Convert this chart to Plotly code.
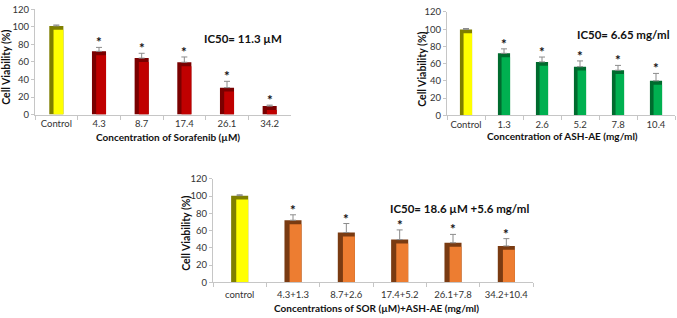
import plotly.graph_objects as go

W, H = 677, 318

# ---------------- data ----------------
sor_labels = ["Control", "4.3", "8.7", "17.4", "26.1", "34.2"]
sor_values = [101, 72, 64.3, 59.6, 30.7, 9.7]
sor_errors = [1, 4.5, 5.5, 6, 7.2, 1.1]
sor_signif = ["", "*", "*", "*", "*", "*"]

ash_labels = ["Control", "1.3", "2.6", "5.2", "7.8", "10.4"]
ash_values = [99.8, 72, 62.1, 56.5, 52.4, 40.1]
ash_errors = [1, 5.2, 5.6, 6.7, 5.6, 8.6]
ash_signif = ["", "*", "*", "*", "*", "*"]

mix_labels = ["control", "4.3+1.3", "8.7+2.6", "17.4+5.2", "26.1+7.8", "34.2+10.4"]
mix_values = [100.5, 72, 57.8, 49.6, 45.9, 42.2]
mix_errors = [1, 6.3, 10.4, 11.2, 9.7, 8.5]
mix_signif = ["", "*", "*", "*", "*", "*"]

titles_x = ["Concentration of Sorafenib (\u00b5M)",
            "Concentration of ASH-AE (mg/ml)",
            "Concentrations of SOR (\u00b5M)+ASH-AE (mg/ml)"]
ic50_texts = ["IC50= 11.3 \u00b5M", "IC50= 6.65 mg/ml", "IC50= 18.6 \u00b5M +5.6 mg/ml"]
y_title = "Cell Viability (%)"

# ---------------- styling ----------------
FONT = "Lato"
ctrl_dark, ctrl_light = "#7f7f00", "#ffff00"
series_cols = [("#7a0000", "#c00000"), ("#006b2e", "#00b050"), ("#7a3b12", "#ed7d31")]
band = 4.5  # top shade height (value units)

# panel pixel boxes: x0, x1, y_zero(px), y_120(px)
panels = [
    (35, 291, 112.5, 3.3),
    (447, 675, 113.3, 6.2),
    (213, 533, 286.3, 179.0),
]
bar_w = [0.33, 0.32, 0.32]
label_standoff = [0, 0, 3]

datasets = [
    (sor_labels, sor_values, sor_errors, sor_signif),
    (ash_labels, ash_values, ash_errors, ash_signif),
    (mix_labels, mix_values, mix_errors, mix_signif),
]

fig = go.Figure()
layout = dict(
    width=W, height=H, margin=dict(l=0, r=0, t=0, b=0),
    paper_bgcolor="white", plot_bgcolor="white",
    showlegend=False, barmode="overlay",
    font=dict(family=FONT, color="#222222"),
)
annotations = []

for i, ((labels, vals, errs, sig), (x0, x1, yz, yt), w) in enumerate(zip(datasets, panels, bar_w)):
    n = "" if i == 0 else str(i + 1)
    xa, ya = "x" + n, "y" + n
    dark, light = series_cols[i]
    dark_cols = [ctrl_dark] + [dark] * (len(labels) - 1)
    light_cols = [ctrl_light] + [light] * (len(labels) - 1)
    fig.add_trace(go.Bar(
        x=labels, y=vals, width=w, offset=-w / 2, xaxis=xa, yaxis=ya,
        marker=dict(color=dark_cols, line=dict(width=0)),
        error_y=dict(type="data", symmetric=False, array=errs,
                     arrayminus=[0] * len(errs), color="#8c8c8c",
                     thickness=1, width=3),
        hoverinfo="skip",
    ))
    fig.add_trace(go.Bar(
        x=labels, y=[v - band for v in vals], width=w * 0.7,
        offset=-w / 2 + w * 0.3, xaxis=xa, yaxis=ya,
        marker=dict(color=light_cols, line=dict(width=0)),
        hoverinfo="skip",
    ))
    dx = [x0 / W, x1 / W]
    dy = [1 - yz / H, 1 - yt / H]
    layout["xaxis" + n] = dict(
        domain=dx, anchor=ya, type="category",
        categoryorder="array", categoryarray=labels,
        range=[-0.5, len(labels) - 0.5], tickangle=0,
        ticklabelstandoff=label_standoff[i],
        showline=True, linecolor="#c6c6c6", linewidth=1,
        ticks="outside", tickson="boundaries", ticklen=4, tickcolor="#c6c6c6",
        showgrid=False, zeroline=False,
        tickfont=dict(family=FONT, size=9.5, color="#333333"),
        fixedrange=True,
    )
    layout["yaxis" + n] = dict(
        domain=dy, anchor=xa, range=[0, 120], dtick=20,
        showline=True, linecolor="#c6c6c6", linewidth=1,
        ticks="outside", ticklen=3, tickcolor="#c6c6c6",
        showgrid=False, zeroline=False,
        tickfont=dict(family=FONT, size=9.5, color="#333333"),
        fixedrange=True,
    )
    # asterisks (x given as category index)
    for j, (v, e, s) in enumerate(zip(vals, errs, sig)):
        if s:
            annotations.append(dict(
                x=j, y=v + e, xref=xa, yref=ya, text="<b>%s</b>" % s, showarrow=False,
                yanchor="bottom", yshift=-5,
                font=dict(family=FONT, size=13.5, color="#111111"),
            ))

# axis titles & IC50 labels (paper positions in px)
xt_pos = [(168, 135.5), (562, 134.5), (376, 312.5)]
yt_pos = [(6, 64), (422, 66), (186, 236)]
ic_pos = [(243, 34), (623, 30), (459, 210)]
for i in range(3):
    x, y = xt_pos[i]
    annotations.append(dict(
        x=x / W, y=1 - y / H, xref="paper", yref="paper", text="<b>%s</b>" % titles_x[i],
        showarrow=False, xanchor="center", yanchor="middle",
        font=dict(family=FONT, size=10, color="#111111"),
    ))
    x, y = yt_pos[i]
    annotations.append(dict(
        x=x / W, y=1 - y / H, xref="paper", yref="paper", text="<b>%s</b>" % y_title,
        showarrow=False, xanchor="center", yanchor="middle", textangle=-90,
        font=dict(family=FONT, size=10.5, color="#111111"),
    ))
    x, y = ic_pos[i]
    annotations.append(dict(
        x=x / W, y=1 - y / H, xref="paper", yref="paper", text="<b>%s</b>" % ic50_texts[i],
        showarrow=False, xanchor="center", yanchor="middle",
        font=dict(family=FONT, size=11.5, color="#111111"),
    ))

layout["annotations"] = annotations
fig.update_layout(**layout)
fig.write_html("out.html")
